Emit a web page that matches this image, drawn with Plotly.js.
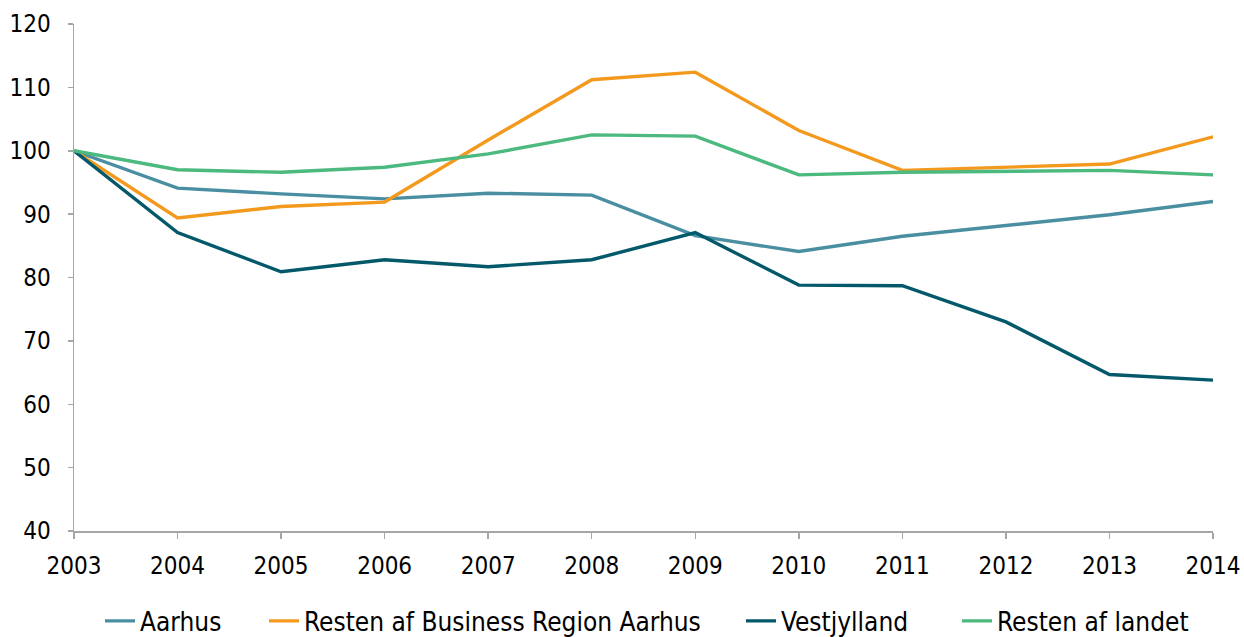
<!DOCTYPE html>
<html>
<head>
<meta charset="utf-8">
<script src="https://cdn.plot.ly/plotly-3.0.1.min.js"></script>
<style>
html,body{margin:0;padding:0;background:#fff;overflow:hidden;}
#chart{width:1244px;height:670px;}
</style>
</head>
<body>
<div id="chart"></div>
<script>
const years = [2003,2004,2005,2006,2007,2008,2009,2010,2011,2012,2013,2014];
const aarhus = [100,94.1,93.2,92.4,93.3,93.0,86.6,84.1,86.5,88.2,89.9,92.0];
const restenBRA = [100,89.4,91.2,91.9,101.7,111.2,112.4,103.2,96.9,97.4,97.9,102.2];
const vestjylland = [100,87.1,80.9,82.8,81.7,82.8,87.1,78.8,78.7,73.0,64.7,63.8];
const restenLandet = [100,97.0,96.6,97.4,99.5,102.5,102.3,96.2,96.6,96.7,96.9,96.2];
const seriesNames = ["Aarhus","Resten af Business Region Aarhus","Vestjylland","Resten af landet"];
const colors = ["#4a8fa1","#f39a1e","#03596a","#4cb97f"];
const seriesData = [aarhus, restenBRA, vestjylland, restenLandet];

const FONT = "'DejaVu Sans Condensed', 'DejaVu Sans', sans-serif";

const H = 670;
const plotLeft = 74, plotRight = 1213, plotTop = 24, plotBottom = 531;
const plotW = plotRight - plotLeft;
// text start positions of legend entries (pixels)
const legendTextStart = [141, 305, 782, 998];
const legendKeys = ['legend','legend2','legend3','legend4'];

const traces = seriesData.map((d,i)=>({
  x: years, y: d, type:'scatter', mode:'lines', name: seriesNames[i],
  legend: legendKeys[i],
  line:{color:colors[i], width:3.4}
}));

const layout = {
  width:1244, height:H,
  margin:{l:plotLeft, r:1244-plotRight, t:plotTop, b:H-plotBottom},
  paper_bgcolor:'#fff', plot_bgcolor:'#fff',
  font:{family:FONT, size:24, color:'#000'},
  showlegend:true,
  xaxis:{range:[2003,2014], tickvals:years, ticktext:years.map(String),
         showgrid:false, zeroline:false, showline:true, linecolor:'#a6a6a6', linewidth:1.5,
         ticks:'outside', ticklen:6, tickcolor:'#a6a6a6', tickwidth:1.5, ticklabelstandoff:7, fixedrange:true},
  yaxis:{range:[40,120], tickvals:[40,50,60,70,80,90,100,110,120],
         showgrid:false, zeroline:false, showline:true, linecolor:'#a6a6a6', linewidth:1.5,
         ticks:'outside', ticklen:5, tickcolor:'#a6a6a6', tickwidth:1.5, ticklabelstandoff:12, fixedrange:true}
};
legendKeys.forEach((k,i)=>{
  layout[k] = {orientation:'h', xanchor:'left', x:(legendTextStart[i]-41-plotLeft)/plotW,
    y:(plotBottom-621)/(plotBottom-plotTop), yanchor:'middle',
    font:{family:FONT, size:26, color:'#000'}, bgcolor:'rgba(0,0,0,0)'};
});
Plotly.newPlot('chart', traces, layout, {displayModeBar:false, staticPlot:true});
</script>
</body>
</html>
